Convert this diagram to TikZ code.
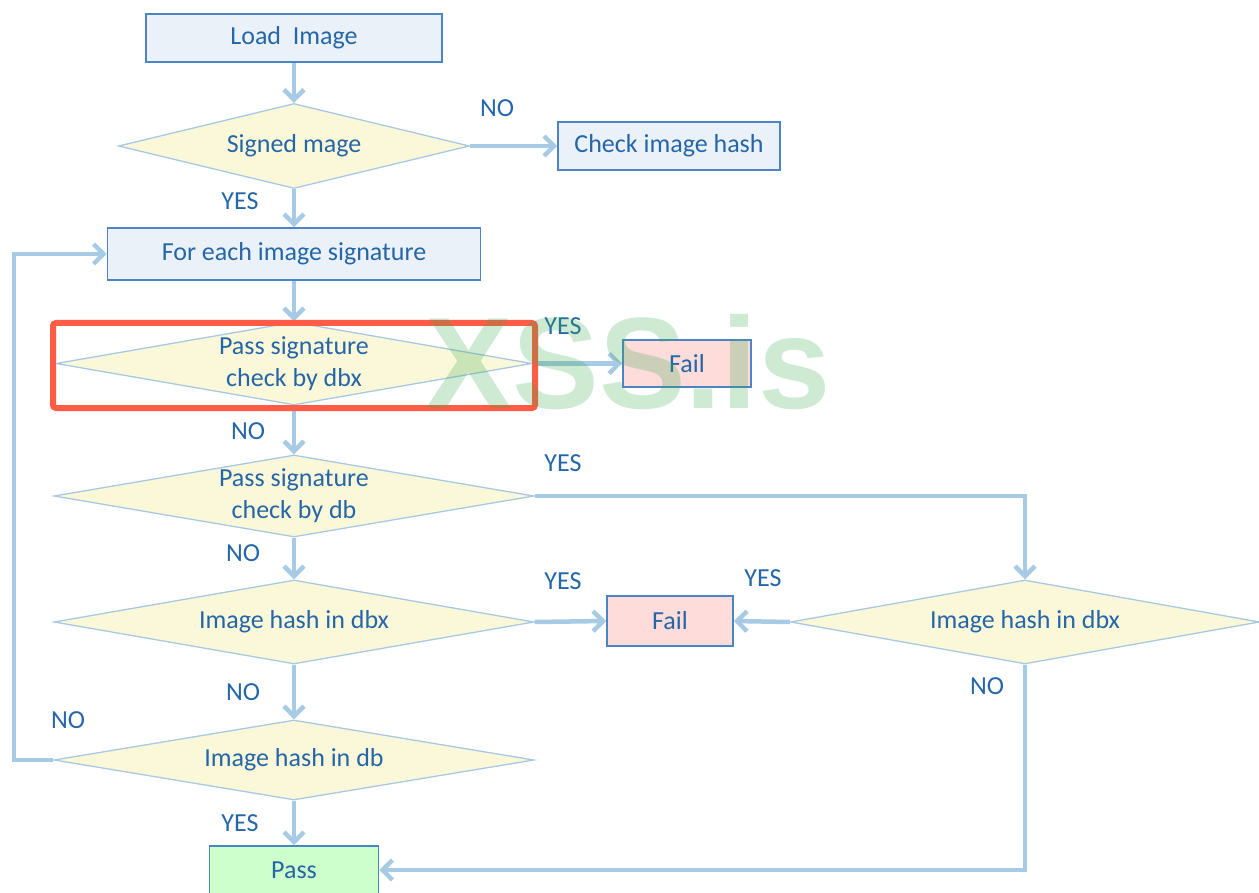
\documentclass[tikz,border=0pt]{standalone}
\usepackage{fontspec}
\setmainfont{Carlito}
\newfontfamily\wmfont{Liberation Sans}
\usetikzlibrary{shapes.geometric,arrows.meta}

\definecolor{txtblue}{HTML}{2466A8}
\definecolor{boxline}{HTML}{4A86C5}
\definecolor{boxfill}{HTML}{EAF1F9}
\definecolor{diafill}{HTML}{FBF8DA}
\definecolor{dialine}{HTML}{A8C9E3}
\definecolor{connblue}{HTML}{A7CAE5}
\definecolor{failfill}{HTML}{FDDCDA}
\definecolor{passfill}{HTML}{CCFFCC}
\definecolor{hlred}{HTML}{FF5B45}
\definecolor{wmgreen}{HTML}{3DAA50}

\begin{document}
\begin{tikzpicture}[x=1pt,y=-1pt,
  every node/.style={font=\fontsize{26}{32}\selectfont, text=txtblue},
  procbox/.style={draw=boxline, fill=boxfill, line width=1.6pt, inner sep=0pt},
  decide/.style={diamond, draw=dialine, fill=diafill, line width=1.3pt, inner sep=0pt},
  dtext/.style={align=center, inner sep=0pt},
  lbl/.style={inner sep=0pt},
  conn/.style={draw=connblue, line width=4.5pt},
  arr/.style={conn, -{Straight Barb[length=10pt,width=20pt]}},
  highlight/.style={draw=hlred, line width=6pt, rounded corners=3pt, inner sep=0pt},
  watermark/.style={font=\wmfont\bfseries\fontsize{130}{130}\selectfont, text=wmgreen, text opacity=0.25, inner sep=0pt}
]
\clip (0,0) rectangle (1259,893);

% process boxes
\node[procbox, minimum width=296, minimum height=48] (load) at (294,38) {Load\ \ Image};
\node[procbox, minimum width=222, minimum height=48] (hash) at (669,146) {Check image hash};
\node[procbox, minimum width=373, minimum height=52] (each) at (294,254) {For each image signature};
\node[procbox, fill=failfill, minimum width=128, minimum height=47] (fail1) at (687,363.5) {Fail};
\node[procbox, fill=failfill, minimum width=126, minimum height=50] (fail2) at (670,621) {Fail};
\node[procbox, fill=passfill, minimum width=169, minimum height=48] (pass) at (294,870) {Pass};

% decision diamonds
\node[decide, minimum width=351, minimum height=85] (signed) at (294,146) {};
\node[dtext] (signed-t) at (signed) {Signed mage};
\node[decide, minimum width=476, minimum height=83] (dbx1) at (294,363.5) {};
\node[dtext] (dbx1-t) at (dbx1) {Pass signature\\check by dbx};
\node[decide, minimum width=480, minimum height=82] (db1) at (294,496) {};
\node[dtext] (db1-t) at (db1) {Pass signature\\check by db};
\node[decide, minimum width=480, minimum height=84] (dbx2) at (294,622) {};
\node[dtext] (dbx2-t) at (dbx2) {Image hash in dbx};
\node[decide, minimum width=469, minimum height=84] (dbx3) at (1025,622) {};
\node[dtext] (dbx3-t) at (dbx3) {Image hash in dbx};
\node[decide, minimum width=480, minimum height=80] (db2) at (294,760) {};
\node[dtext] (db2-t) at (db2) {Image hash in db};

% connectors
\coordinate (loop) at (14,760);
\draw[arr] (load.south) -- (signed.north);
\draw[arr] (signed.east) -- (hash.west);
\draw[arr] (signed.south) -- (each.north);
\draw[arr] (each.south) -- (dbx1.north);
\draw[arr] (dbx1.east) -- (fail1.west);
\draw[arr] (dbx1.south) -- (db1.north);
\draw[arr] (db1.east) -| (dbx3.north);
\draw[arr] (db1.south) -- (dbx2.north);
\draw[arr] (dbx2.east) -- (fail2.west);
\draw[arr] (dbx3.west) -- (fail2.east);
\draw[arr] (dbx2.south) -- (db2.north);
\draw[arr] (db2.west) -- (loop) |- (each.west);
\draw[arr] (db2.south) -- (pass.north);
\draw[arr] (dbx3.south) |- (pass.east);

% branch labels
\node[lbl] (l1) at (497,108) {NO};
\node[lbl] (l2) at (240,201) {YES};
\node[lbl] (l3) at (563,326) {YES};
\node[lbl] (l4) at (248,431) {NO};
\node[lbl] (l5) at (563,463) {YES};
\node[lbl] (l6) at (243,553) {NO};
\node[lbl] (l7) at (563,581) {YES};
\node[lbl] (l8) at (763,578) {YES};
\node[lbl] (l9) at (243,692) {NO};
\node[lbl] (l10) at (68,720) {NO};
\node[lbl] (l11) at (240,823) {YES};
\node[lbl] (l12) at (987,686) {NO};

% highlight frame and watermark
\node[highlight, minimum width=482, minimum height=85] (hl) at (294,365.5) {};
\node[watermark, anchor=base] (wm) at (628,408) {XSS.is};
\end{tikzpicture}
\end{document}
